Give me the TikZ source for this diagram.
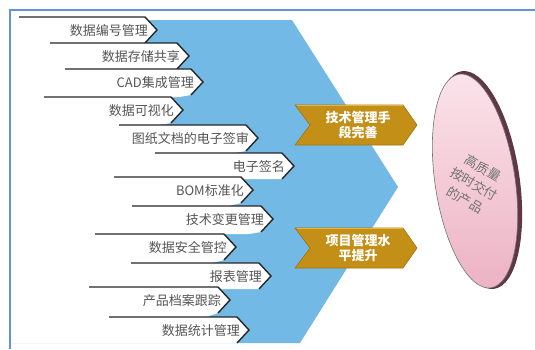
\documentclass[tikz,border=0pt]{standalone}
\usepackage{fontspec}
\setmainfont{Noto Sans CJK SC}
\usepackage{tikz}
\usetikzlibrary{shapes.geometric}
\definecolor{chevblue}{RGB}{115,185,230}
\definecolor{goldfill}{RGB}{196,143,22}
\definecolor{goldedge}{RGB}{160,115,15}
\definecolor{goldlight}{RGB}{232,180,60}
\definecolor{framecol}{RGB}{100,145,220}
\definecolor{txtgray}{RGB}{85,85,85}
\definecolor{pinktop}{RGB}{251,228,235}
\definecolor{pinkbot}{RGB}{236,178,196}
\definecolor{rimcol}{RGB}{95,55,70}

\begin{document}
\begin{tikzpicture}[x=1pt,y=-1pt,
        lbl/.style={text=txtgray, font=\fontsize{13}{15}\selectfont, inner sep=0pt, anchor=east},
        goldtxt/.style={text=white, font=\fontsize{13}{15}\selectfont\bfseries, align=center, inner sep=0pt}]
        \useasboundingbox (0,0) rectangle (535,349);
        % frame
        \draw [framecol, line width=1.2pt] (10,349) -- (10,10) -- (535,10);
        % big chevron
        \fill [chevblue] (12,20) -- (292,20) -- (398,187) -- (300,343) -- (12,343) -- cycle;
        % feature labels: top / line start / corner / next top / text
        \foreach \t/\a/\b/\n/\txt [count=\i] in {17/19/145/43/数据编号管理, 43/50/177/69/数据存储共享,
                69/65/191/97/CAD集成管理, 97/44/171/125/数据可视化, 125/119/246/153/图纸文档的电子签审,
                153/155/282/179/电子签名, 177/114/241/206/BOM标准化, 206/132/261/234/技术变更管理,
                234/95/224/263/数据安全管控, 263/131/259/289/报表管理, 287/89/218/317/产品档案跟踪,
                317/109/237/343/数据统计管理} {
            \fill [white] (12,\t) -- (\b,\t) -- (\b+12,\t+13) -- (\b,\t+26) -- (\b-12,\n) -- (12,\n) -- cycle;
            \draw [black!85, line width=1.4pt] (\a,\t) -- (\b,\t) -- (\b+12,\t+13) -- (\b,\t+26);
            \node [lbl] (lab\i) at (\b+3,\t+13.5) {\txt};
        }
        % gold arrows
        \foreach \y/\txt [count=\j] in {105/{技术管理手\\段完善}, 228/{项目管理水\\平提升}} {
            \fill [goldfill, draw=goldedge, line width=0.6pt] (295,\y) -- (403,\y) -- (417,\y+20) -- (403,\y+40) -- (295,\y+40) -- (310,\y+20) -- cycle;
            \draw [goldlight, line width=1pt] (297,\y+0.8) -- (403,\y+0.8);
            \node [goldtxt] (aim\j) at (358,\y+20) {\txt};
        }
        % disc
        \fill [rimcol, rotate around={8.5:(478,180)}] (478,180) ellipse [x radius=41.5pt, y radius=110pt];
        \shade [top color=pinktop, bottom color=pinkbot, draw=black!55, line width=0.6pt, rotate around={8.5:(475,181)}] (475,181) ellipse [x radius=40pt, y radius=108pt];
        \node [rotate=-30, text=black!55, align=center, font=\fontsize{13}{18}\selectfont] (goal) at (474,184) {高质量\\按时交付\\的产品};
    \end{tikzpicture}
\end{document}
